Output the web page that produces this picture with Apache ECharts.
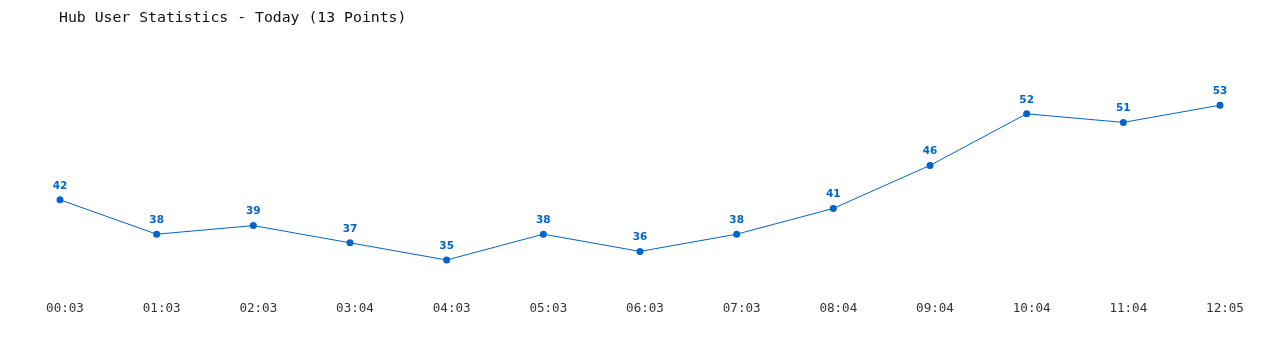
<!DOCTYPE html>
<html><head><meta charset="utf-8">
<script src="https://cdn.jsdelivr.net/npm/echarts@6/dist/echarts.min.js"></script>
<style>html,body{margin:0;padding:0;background:#fff}#c{width:1280px;height:350px}</style>
</head><body><div id="c"></div>
<script>
const categories = ["00:03","01:03","02:03","03:04","04:03","05:03","06:03","07:03","08:04","09:04","10:04","11:04","12:05"];
const users = [42,38,39,37,35,38,36,38,41,46,52,51,53];
const titleText = "Hub User Statistics - Today (13 Points)";
const chart = echarts.init(document.getElementById('c'), null, {renderer:'canvas'});
chart.setOption({
  animation:false,
  backgroundColor:'#ffffff',
  title:{text:titleText,left:54,top:6,textStyle:{fontFamily:'DejaVu Sans Mono',fontSize:14.8,fontWeight:'normal',color:'#111'}},
  grid:{left:60,right:60,top:45,bottom:47},
  xAxis:{type:'category',data:categories,boundaryGap:false,
    axisLine:{show:false},axisTick:{show:false},splitLine:{show:false},
    axisLabel:{margin:-1,padding:[0,0,0,10],fontFamily:'DejaVu Sans Mono',fontSize:12.6,color:'#333'}},
  yAxis:{type:'value',min:30,max:60,show:false,splitLine:{show:false}},
  series:[{type:'line',data:users,symbol:'circle',symbolSize:7,
    lineStyle:{color:'#0066cc',width:1},itemStyle:{color:'#0066cc'},
    label:{show:true,position:'top',distance:5,fontFamily:'DejaVu Sans',fontWeight:'bold',fontSize:10.5,color:'#0066cc'}}]
});
</script></body></html>
